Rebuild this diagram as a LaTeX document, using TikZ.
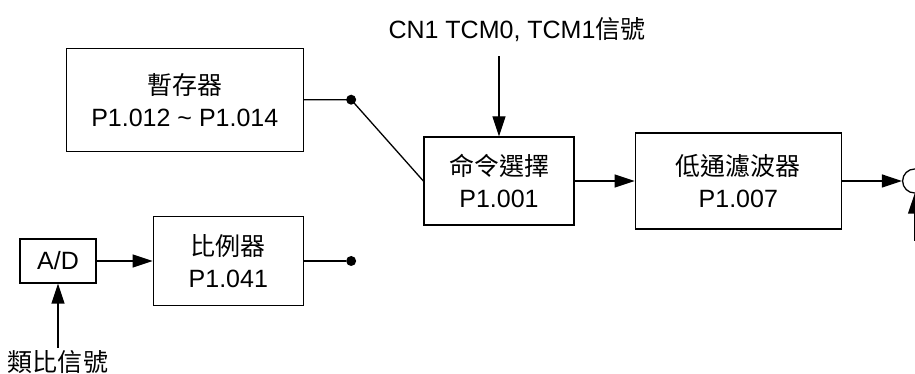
\documentclass[tikz,border=0pt]{standalone}
\usepackage{fontspec}
\setmainfont{Liberation Sans}
\newfontfamily\cjk{Noto Sans CJK TC}
\usetikzlibrary{arrows.meta,positioning}

\begin{document}
\begin{tikzpicture}[
    x=1pt, y=1pt,
    node distance=60pt,
    every node/.style={font=\fontsize{25}{32}\selectfont},
    block/.style={draw, line width=1.3pt, inner sep=0pt, align=center},
    wire/.style={line width=1.3pt},
    arrow/.style={-{Triangle[length=20pt, width=13pt]}, line width=1.3pt},
    dot/.style={circle, fill, inner sep=0pt, minimum size=10pt},
  ]
  \useasboundingbox (0,0) rectangle (915,374);
  \node[block, minimum width=76pt, minimum height=44pt] (ad) at (58,113) {A/D};
  \node[block, right=56pt of ad, minimum width=150pt, minimum height=89pt] (ratio) {{\cjk 比例器}\\P1.041};
  \node[block, above=64pt of ratio.north east, anchor=south east, minimum width=237pt, minimum height=103pt] (reg) {{\cjk 暫存器}\\P1.012 \textasciitilde{} P1.014};
  \node[block, minimum width=150pt, minimum height=88pt] (sel) at (499,193) {{\cjk 命令選擇}\\P1.001};
  \node[block, right=of sel, minimum width=206pt, minimum height=96pt] (lpf) {{\cjk 低通濾波器}\\P1.007};
  \node[draw, circle, line width=1.3pt, minimum size=24pt, inner sep=0pt, right=of lpf] (sum) {};
  \node[dot, right=42pt of reg] (d1) {};
  \node[dot, right=42pt of ratio] (d2) {};
  \node (cn) at (517,344) {CN1 TCM0, TCM1{\cjk 信號}};
  \node (analog) at (58,12) {\cjk 類比信號};
  \coordinate[above=80pt of sel.north] (cnin);
  \coordinate[below=64pt of ad.south] (adin);
  \coordinate[below=47pt of sum.south] (sumin);
  \draw[wire] (reg) -- (d1.center) -- (sel.west);
  \draw[wire] (ratio) -- (d2);
  \foreach \a/\b in {ad/ratio, sel/lpf, lpf/sum, cnin/sel, adin/ad, sumin/sum}
    \draw[arrow] (\a) -- (\b);
\end{tikzpicture}
\end{document}
